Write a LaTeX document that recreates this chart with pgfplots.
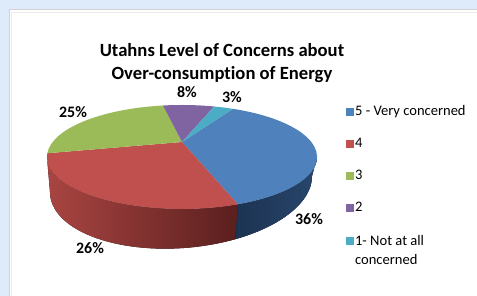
\documentclass[border=0pt]{standalone}
\usepackage{pgfplots}
\pgfplotsset{compat=1.18}
\usepackage{pgfplotstable}
\usetikzlibrary{calc}
\usepackage{fontspec}
\setmainfont{Carlito}[Ligatures=NoCommon]

\definecolor{bgblue}{HTML}{DDEBFA}
\definecolor{slice0}{HTML}{4F81BD}
\definecolor{slice1}{HTML}{C0504D}
\definecolor{slice2}{HTML}{9BBB59}
\definecolor{slice3}{HTML}{8064A2}
\definecolor{slice4}{HTML}{4BACC6}
\definecolor{sideL0}{HTML}{1C3352}
\definecolor{sideR0}{HTML}{28466C}
\definecolor{sideL1}{HTML}{A94542}
\definecolor{sideR1}{HTML}{5A1F1E}
\definecolor{sideL2}{HTML}{6E8A3A}
\definecolor{sideR2}{HTML}{4E6628}
\definecolor{sideL3}{HTML}{5A4575}
\definecolor{sideR3}{HTML}{3F3054}
\definecolor{sideL4}{HTML}{2F7F95}
\definecolor{sideR4}{HTML}{225E6F}

\pgfplotstableread{
level value
5 36
4 26
3 25
2 8
1 3
}\piedata

\pgfplotsset{sq/.style={legend image code/.code={\fill[#1] (0bp,-3.5bp) rectangle (7bp,3.5bp);}}}

\begin{document}%
\begin{tikzpicture}
% ---- geometry of the tilted pie (pixel units, 1 unit = 1bp)
\def\kk{0.288}\def\rr{129.3}\def\bb{47.66}%
\def\vx{182}\def\vy{154}\def\tzero{60.5}%
% bottom rim (slightly narrower and tilted)
\def\cxB{181}\def\rxB{131}\def\cyB{111.8}\def\ryB{64}\def\gB{0.06}%
\pgfmathsetmacro\qq{sqrt(1-\kk*\kk)}%
\pgfmathsetmacro\rx{\rr/\qq}%
\pgfmathsetmacro\ryT{\bb/(1-\kk*\kk)}%
\pgfmathsetmacro\cx{\vx}%
\pgfmathsetmacro\cyT{\vy-\bb*\kk/(1-\kk*\kk)}%
% ---- total
\def\total{0}%
\pgfplotsforeachungrouped \i in {0,...,4}{%
  \pgfplotstablegetelem{\i}{value}\of\piedata%
  \pgfmathsetmacro\total{\total+\pgfplotsretval}%
}%
% ---- slice angles
\def\tcur{\tzero}%
\pgfmathsetmacro\phicur{atan2(sin(\tcur)+\kk,\qq*cos(\tcur))}%
\pgfplotsforeachungrouped \i in {0,...,4}{%
  \pgfplotstablegetelem{\i}{value}\of\piedata%
  \pgfmathsetmacro\tnext{\tcur-360*\pgfplotsretval/\total}%
  \pgfmathsetmacro\phinext{atan2(sin(\tnext)+\kk,\qq*cos(\tnext))}%
  \pgfmathsetmacro\phinext{\phinext>\phicur ? \phinext-360 : \phinext}%
  \expandafter\xdef\csname phiA\i\endcsname{\phicur}%
  \expandafter\xdef\csname phiB\i\endcsname{\phinext}%
  \pgfmathsetmacro\lo{max(\phinext,-180)}%
  \pgfmathsetmacro\hi{min(\phicur,0)}%
  \pgfmathtruncatemacro\on{\hi>\lo+0.01 ? 1 : 0}%
  \expandafter\xdef\csname sideLo\i\endcsname{\lo}%
  \expandafter\xdef\csname sideHi\i\endcsname{\hi}%
  \expandafter\xdef\csname sideOn\i\endcsname{\on}%
  \let\tcur\tnext \let\phicur\phinext%
}%
\begin{axis}[
  scale only axis, width=477bp, height=296bp,
  xmin=0, xmax=477, ymin=0, ymax=296,
  hide axis, clip=false,
  legend cell align=left,
  legend style={at={(axis cs:346,192)}, anchor=north west, draw=none, fill=none,
    font=\fontsize{14.6}{17}\selectfont, row sep=18bp, inner sep=0pt,
    nodes={inner sep=1.5bp}},
]
\coordinate (LL) at (axis cs:0,0);
\coordinate (UR) at (axis cs:477,296);
% background panel
\fill[bgblue] (axis cs:0,0) rectangle (axis cs:477,296);
\fill[white] (axis cs:9,0) rectangle (axis cs:477,286.5);
\draw[black!18, line width=0.8bp] (axis cs:9,0) -- (axis cs:9,286.5) -- (axis cs:477,286.5);
\draw[black!8, line width=0.6bp] (axis cs:11.5,0) -- (axis cs:11.5,284) -- (axis cs:477,284);

% side walls
\pgfplotsinvokeforeach{0,...,4}{%
  \ifnum\csname sideOn#1\endcsname=1
  \fill[left color=sideL#1, right color=sideR#1]
    ($(axis cs:\cx,\cyT)+(\csname sideHi#1\endcsname:\rx bp and \ryT bp)$)
    arc[start angle=\csname sideHi#1\endcsname, end angle=\csname sideLo#1\endcsname, x radius=\rx bp, y radius=\ryT bp]
    -- plot[domain=\csname sideLo#1\endcsname:\csname sideHi#1\endcsname, samples=40, variable=\t]
       ({\cxB+\rxB*cos(\t)}, {\cyB+\ryB*sin(\t)+\gB*\rxB*cos(\t)})
    -- cycle;
  \fi
}
% top faces
\pgfplotsinvokeforeach{0,...,4}{%
  \fill[slice#1] (axis cs:\vx,\vy)
    -- ($(axis cs:\cx,\cyT)+(\csname phiA#1\endcsname:\rx bp and \ryT bp)$)
    arc[start angle=\csname phiA#1\endcsname, end angle=\csname phiB#1\endcsname, x radius=\rx bp, y radius=\ryT bp]
    -- cycle;
}

% title
\node[font=\bfseries\fontsize{18.7}{22.3}\selectfont, align=center] at (axis cs:222,233)
  {Utahns Level of Concerns about\\Over-consumption of Energy};
% data labels
\begin{scope}[every node/.style={font=\bfseries\fontsize{16}{19}\selectfont}]
\node at (axis cs:309,77) {36\%};
\node at (axis cs:90,48) {26\%};
\node at (axis cs:73,184) {25\%};
\node at (axis cs:187,204) {8\%};
\node at (axis cs:232,199) {3\%};
\end{scope}

\addlegendimage{sq=slice0}\addlegendentry{5 - Very concerned}
\addlegendimage{sq=slice1}\addlegendentry{4}
\addlegendimage{sq=slice2}\addlegendentry{3}
\addlegendimage{sq=slice3}\addlegendentry{2}
\addlegendimage{sq=slice4}\addlegendentry{\begin{tabular}[t]{@{}l@{}}1- Not at all\\[2bp]concerned\end{tabular}}
\end{axis}
\pgfresetboundingbox
\useasboundingbox (LL) rectangle (UR);
\end{tikzpicture}%
\end{document}
